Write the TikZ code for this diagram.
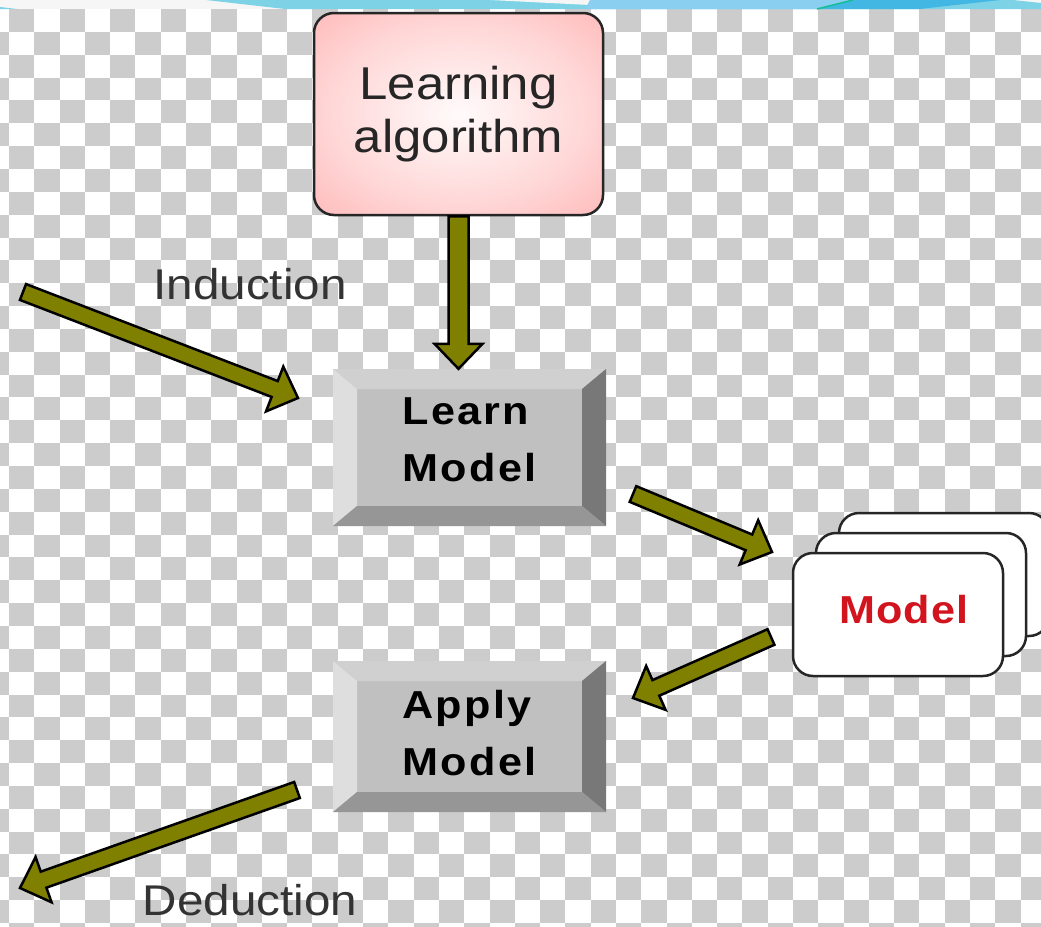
\documentclass[tikz,border=0pt]{standalone}
\usepackage{fontspec}
\setmainfont{Liberation Sans}[FakeStretch=1.107]
\usetikzlibrary{calc}
\definecolor{checkGray}{RGB}{204,204,204}
\definecolor{bandWhite}{RGB}{246,246,246}
\definecolor{bandCyan}{RGB}{125,211,229}
\definecolor{bandBlue}{RGB}{138,206,240}
\definecolor{bandDeep}{RGB}{66,183,228}
\definecolor{bandGreen}{RGB}{20,190,150}
\definecolor{algoPink}{RGB}{255,166,166}
\colorlet{algoCore}{white!95!algoPink}
\colorlet{algoMid}{white!55!algoPink}
\definecolor{arrowOlive}{RGB}{128,128,0}
\definecolor{bevelFace}{RGB}{192,192,192}
\definecolor{bevelTop}{RGB}{208,208,208}
\definecolor{bevelLeft}{RGB}{222,222,222}
\definecolor{bevelRight}{RGB}{120,120,120}
\definecolor{bevelBottom}{RGB}{150,150,150}
\definecolor{modelRed}{RGB}{210,20,30}
\pgfdeclareradialshading{algoshade}{\pgfpoint{0bp}{0bp}}{color(0bp)=(algoCore); color(22bp)=(algoMid); color(46bp)=(algoPink); color(50bp)=(algoPink)}

\tikzset{
  bevelbox/.style={minimum width=273pt, minimum height=#1, inner sep=0pt, align=left, fill=bevelFace,
    font=\fontsize{39}{57}\selectfont\bfseries\addfontfeatures{LetterSpace=6},
    path picture={
      \coordinate (bNW) at (path picture bounding box.north west);
      \coordinate (bNE) at (path picture bounding box.north east);
      \coordinate (bSE) at (path picture bounding box.south east);
      \coordinate (bSW) at (path picture bounding box.south west);
      \fill[bevelTop] (bNW) -- (bNE) -- ([xshift=-24pt,yshift=-20pt]bNE) -- ([xshift=24pt,yshift=-20pt]bNW) -- cycle;
      \fill[bevelLeft] (bNW) -- ([xshift=24pt,yshift=-20pt]bNW) -- ([xshift=24pt,yshift=20pt]bSW) -- (bSW) -- cycle;
      \fill[bevelRight] (bNE) -- (bSE) -- ([xshift=-24pt,yshift=20pt]bSE) -- ([xshift=-24pt,yshift=-20pt]bNE) -- cycle;
      \fill[bevelBottom] (bSW) -- (bSE) -- ([xshift=-24pt,yshift=20pt]bSE) -- ([xshift=24pt,yshift=20pt]bSW) -- cycle;
    }},
  card/.style={draw=black!85, line width=2.5pt, fill=white, rounded corners=20pt,
    minimum width=210pt, minimum height=123pt},
  lbl/.style={font=\fontsize{43}{52}\selectfont, text=black!80, anchor=base, inner sep=0pt},
  fatarrow/.style={fill=arrowOlive, draw=black, line width=2.5pt, line join=miter,
    to path={
      let \p1=(\tikztostart), \p2=(\tikztotarget),
          \n1={atan2(\y2-\y1,\x2-\x1)},
          \n2={veclen(\x2-\x1,\y2-\y1)-25pt},
          \n3={24pt-#1pt}
      in ($(\p1)+(\n1+90:#1pt)$) -- ++(\n1:\n2) -- ++(\n1+90:\n3) -- (\p2)
         -- ($(\p1)+(\n1:\n2)+(\n1-90:24pt)$) -- ++(\n1+90:\n3) -- ++(\n1+180:\n2) -- cycle
    }},
  fatarrow/.default=8.5
}

\begin{document}
\begin{tikzpicture}[x=1pt,y=-1pt]
  \useasboundingbox (0,0) rectangle (1041,926);
  % transparent checker background
  \begin{scope}
    \clip (0,9) rectangle (1041,926);
    \fill[white] (0,9) rectangle (1041,926);
    \foreach \j in {0,...,40}{
      \pgfmathtruncatemacro\rowodd{mod(\j,2)}
      \foreach \i in {-2,0,...,40}{
        \fill[checkGray] ({9+(\i+\rowodd)*25.29},{9+\j*22.85}) rectangle ++(25.29,22.85);
      }
    }
  \end{scope}
  % slide band at the top
  \fill[bandWhite] (0,0) rectangle (1041,9);
  \fill[bandCyan] (0,7) -- (17,9) -- (0,9) -- cycle;
  \fill[bandCyan] (206,0) -- (1013,0) -- (1041,3) -- (1041,9) -- (285,9) -- cycle;
  \fill[bandWhite] (490,0) -- (590,0) -- (590,5) -- cycle;
  \fill[bandBlue] (590,0) -- (853,0) -- (817,9) -- (585,9) -- cycle;
  \fill[bandDeep] (853,0) -- (1000,0) -- (920,9) -- (817,9) -- cycle;
  \draw[bandGreen, line width=1.5pt] (817,9) -- (853,0);

  % learning algorithm
  \node[draw=black!85, line width=2.5pt, rounded corners=20pt, shading=algoshade,
        minimum width=289pt, minimum height=202pt, align=center,
        font=\fontsize{46}{53}\selectfont, text=black!85] (algo) at (458.5,114) {Learning\\algorithm};

  % bevel buttons
  \node[bevelbox=157pt, text depth=16pt] (learn) at (469.5,447.5) {Learn\\Model};
  \node[bevelbox=151pt, text depth=8pt] (apply) at (469.5,736.5) {Apply\\Model};

  % stacked model cards
  \node[card] (modelback) at (944,574.5) {};
  \node[card] (modelmid) at (921,594.5) {};
  \node[card, text=modelRed, text depth=11pt,
        font=\fontsize{39}{47}\selectfont\bfseries\addfontfeatures{LetterSpace=3}] (model) at (898,614.5) {\hspace*{12pt}Model};

  % arrow end points
  \coordinate (indtail) at (23,292);
  \coordinate (indtip) at (298,398);
  \coordinate (fitout) at (633,494);
  \coordinate (fitin) at (772,552);
  \coordinate (useout) at (771,637);
  \coordinate (usein) at (633,698);
  \coordinate (dedtail) at (297,790);
  \coordinate (dedtip) at (20,888);

  \draw[fatarrow=10] (algo.south) to (algo.south |- learn.north);
  \draw[fatarrow] (indtail) to (indtip);
  \draw[fatarrow] (fitout) to (fitin);
  \draw[fatarrow] (useout) to (usein);
  \draw[fatarrow] (dedtail) to (dedtip);

  % labels
  \node[lbl] (indlabel) at (250,299) {Induction};
  \node[lbl] (dedlabel) at (250,915) {Deduction};
\end{tikzpicture}
\end{document}
